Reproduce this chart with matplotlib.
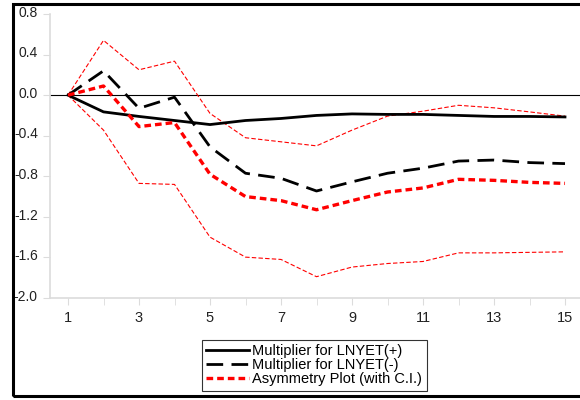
import numpy as np
import matplotlib
matplotlib.use("Agg")
import matplotlib.pyplot as plt
import matplotlib.transforms as mtransforms
from matplotlib.patches import Rectangle

plt.rcParams["font.family"] = ["Liberation Sans", "DejaVu Sans"]

# Dynamic multipliers by horizon
horizon = np.arange(1, 16)
mult_pos = [0.0, -0.165, -0.21, -0.25, -0.29, -0.25, -0.23, -0.20,
            -0.185, -0.19, -0.19, -0.20, -0.21, -0.21, -0.215]
mult_neg = [0.0, 0.24, -0.13, -0.02, -0.51, -0.77, -0.82, -0.945,
            -0.855, -0.77, -0.72, -0.65, -0.64, -0.665, -0.675]
asym = [0.0, 0.09, -0.31, -0.27, -0.78, -1.0, -1.04, -1.13,
        -1.04, -0.955, -0.915, -0.83, -0.84, -0.86, -0.87]
ci_upper = [0.0, 0.54, 0.25, 0.335, -0.18, -0.42, -0.46, -0.50,
            -0.345, -0.207, -0.158, -0.10, -0.125, -0.165, -0.207]
ci_lower = [0.0, -0.345, -0.87, -0.88, -1.40, -1.597, -1.62, -1.79,
            -1.695, -1.66, -1.64, -1.555, -1.555, -1.55, -1.545]

yticks = [0.8, 0.4, 0.0, -0.4, -0.8, -1.2, -1.6, -2.0]
xticks = [1, 3, 5, 7, 9, 11, 13, 15]

fig = plt.figure(figsize=(5.8, 4.0), dpi=100)
ax = fig.add_axes([50.25 / 580, 1 - 298 / 400, 532.5 / 580, 284 / 400])

ax.axhline(0, color="black", lw=0.8, zorder=1)

ax.plot(horizon, ci_upper, color="red", lw=0.8, ls=(0, (4, 2)), zorder=2)
ax.plot(horizon, ci_lower, color="red", lw=0.8, ls=(0, (4, 2)), zorder=2)
l1, = ax.plot(horizon, mult_pos, color="black", lw=2.0, zorder=3,
              label="Multiplier for LNYET(+)")
l2, = ax.plot(horizon, mult_neg, color="black", lw=2.0, ls=(0, (6, 3)),
              zorder=3, label="Multiplier for LNYET(-)")
l3, = ax.plot(horizon, asym, color="red", lw=2.4, ls=(0, (2, 1.2)),
              zorder=4, label="Asymmetry Plot (with C.I.)")

ax.set_xlim(0.5, 15.5)
ax.set_ylim(-2.0, 0.8)
ax.set_yticks(yticks)
ax.set_yticklabels([f"{v:.1f}" for v in yticks])
ax.set_xticks(xticks)
ax.set_xticks(np.arange(2, 16, 2), minor=True)

for side in ["top", "right"]:
    ax.spines[side].set_visible(False)
for side in ["left", "bottom"]:
    ax.spines[side].set_color("#dcdcdc")
    ax.spines[side].set_linewidth(1.2)

ax.tick_params(axis="y", which="both", length=5, color="#dcdcdc",
               labelsize=10, labelcolor="#222222", pad=4)
ax.tick_params(axis="x", which="both", length=5, color="#dcdcdc",
               labelsize=10.5, labelcolor="#222222", pad=4)

offset = mtransforms.ScaledTranslation(0, 2 / 72, fig.dpi_scale_trans)
for lab in ax.get_yticklabels():
    lab.set_transform(lab.get_transform() + offset)

# outer frame
fig.patches.append(Rectangle((13 / 580, 4 / 400), 1.2, 392 / 400,
                             transform=fig.transFigure, fill=False,
                             edgecolor="black", lw=2.2, zorder=10))

leg = fig.legend(handles=[l1, l2, l3], loc="upper left",
                 bbox_to_anchor=(202 / 580, 1 - 340 / 400),
                 frameon=True, fancybox=False, fontsize=10.5,
                 handlelength=2.9, handletextpad=0.25, labelspacing=0.0,
                 borderpad=0.3, borderaxespad=0)
leg.get_frame().set_edgecolor("black")
leg.get_frame().set_linewidth(0.8)

fig.savefig("out.png", dpi=100)
